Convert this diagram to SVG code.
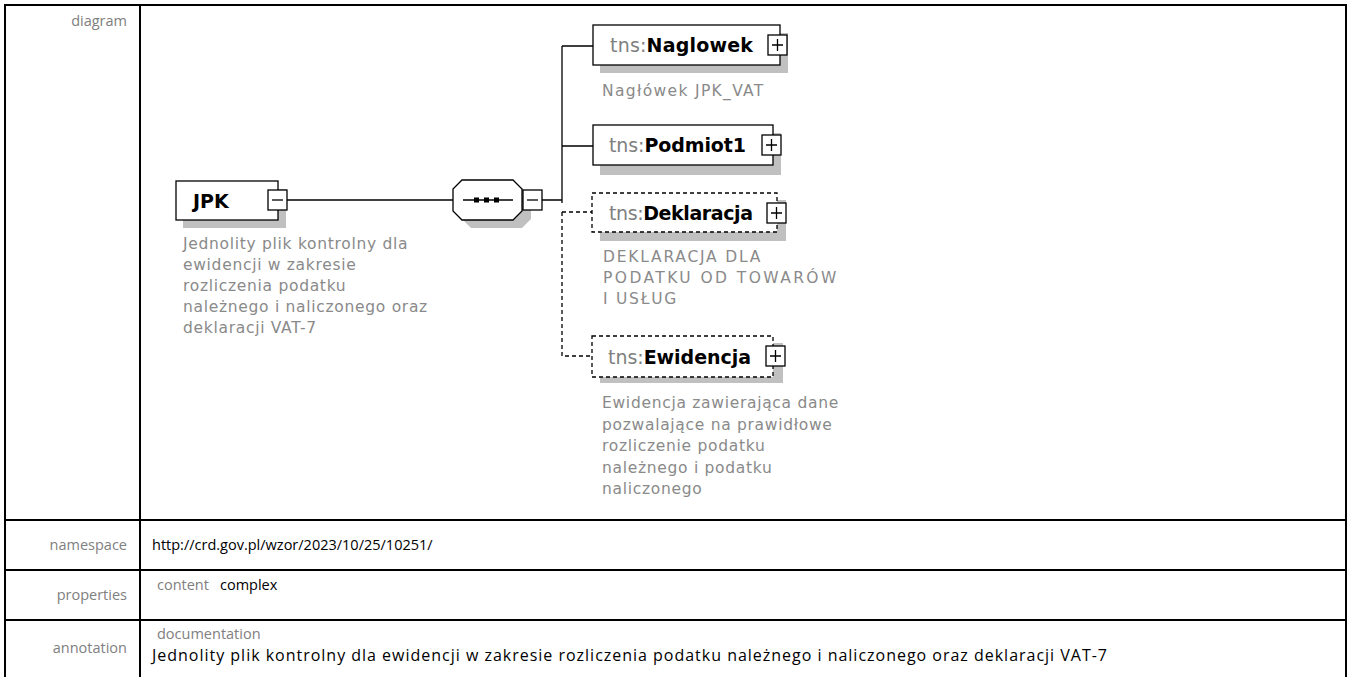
<svg xmlns="http://www.w3.org/2000/svg" width="1348" height="677" viewBox="0 0 1348 677">
<defs>
<style>
.lbl{font-family:"Open Sans","Noto Sans",sans-serif;font-size:14.5px;fill:#808080}
.val{font-family:"Open Sans","Noto Sans",sans-serif;font-size:14.5px;fill:#000}
.grid{stroke:#000;stroke-width:2;fill:none}
.box{fill:#fff;stroke:#000;stroke-width:1.3}
.dbox{fill:#fff;stroke:#000;stroke-width:1.3;stroke-dasharray:4,3}
.shadow{fill:#c0c0c0}
.ln{stroke:#000;stroke-width:1.3;fill:none}
.dln{stroke:#000;stroke-width:1.3;fill:none;stroke-dasharray:4,3}
.title{font-family:"DejaVu Sans",Verdana,sans-serif;font-size:19px}
.ns{fill:#808080}
.nm{fill:#000;font-weight:bold}
.desc{font-family:"DejaVu Sans",Verdana,sans-serif;font-size:15.5px;letter-spacing:0.7px;fill:#8a8a8a}
</style>
<g id="plus"><rect x="0" y="0" width="19" height="20" class="box"/><path d="M4 10H15M9.5 4V16" class="ln"/></g>
<g id="minus"><rect x="0" y="0" width="19" height="20" class="box"/><path d="M4 10H15" class="ln"/></g>
</defs>
<rect x="0" y="0" width="1348" height="677" fill="#fff"/>
<g id="table">
<rect x="5" y="5" width="1341" height="675" class="grid"/>
<path d="M140 5V677M5 520H1346M5 570H1346M5 620H1346" class="grid"/>
<text x="127" y="26" text-anchor="end" class="lbl">diagram</text>
<text x="127" y="550" text-anchor="end" class="lbl">namespace</text>
<text x="127" y="600" text-anchor="end" class="lbl">properties</text>
<text x="127" y="653" text-anchor="end" class="lbl">annotation</text>
<text x="152" y="550" class="val">http://crd.gov.pl/wzor/2023/10/25/10251/</text>
<text x="157" y="590" class="lbl">content</text>
<text x="220" y="590" class="val">complex</text>
<text x="157" y="639" class="lbl">documentation</text>
<text x="152" y="661" class="val" style="font-size:16px" textLength="955">Jednolity plik kontrolny dla ewidencji w zakresie rozliczenia podatku należnego i naliczonego oraz deklaracji VAT-7</text>
</g>
<g id="connectors">
<path d="M287 200H453" class="ln"/>
<path d="M542 200H562M562 46V203M562 46H593M562 146H593" class="ln"/>
<path d="M562 212H592M562 212V356H592" class="dln"/>
</g>
<g id="JPK">
<rect x="183" y="189" width="103" height="39" class="shadow"/>
<rect x="176" y="181" width="102" height="39" class="box"/>
<text x="193" y="207.5" class="title nm">JPK</text>
<use href="#minus" x="268" y="190"/>
<text x="183" y="249" class="desc">Jednolity plik kontrolny dla</text>
<text x="183" y="270" class="desc">ewidencji w zakresie</text>
<text x="183" y="291" class="desc">rozliczenia podatku</text>
<text x="183" y="312" class="desc">należnego i naliczonego oraz</text>
<text x="183" y="333" class="desc">deklaracji VAT-7</text>
</g>
<g id="sequence">
<polygon points="471,188 522,188 531,197 531,219 522,228 471,228 462,219 462,197" class="shadow"/>
<polygon points="462,180 513,180 522,189 522,211 513,220 462,220 453,211 453,189" class="box"/>
<path d="M463 200H513" class="ln"/>
<rect x="474" y="197.5" width="5" height="5"/>
<rect x="484" y="197.5" width="5" height="5"/>
<rect x="494" y="197.5" width="5" height="5"/>
<use href="#minus" x="523" y="190"/>
</g>
<g id="Naglowek">
<rect x="600" y="33" width="188" height="40" class="shadow"/>
<rect x="593" y="25" width="187" height="40" class="box"/>
<text x="610" y="52" class="title" textLength="143"><tspan class="ns">tns:</tspan><tspan class="nm">Naglowek</tspan></text>
<use href="#plus" x="768" y="35"/>
<text x="602" y="96" class="desc" textLength="162">Nagłówek JPK_VAT</text>
</g>
<g id="Podmiot1">
<rect x="600" y="133" width="181" height="42" class="shadow"/>
<rect x="593" y="125" width="180" height="40" class="box"/>
<text x="609" y="152" class="title" textLength="137"><tspan class="ns">tns:</tspan><tspan class="nm">Podmiot1</tspan></text>
<use href="#plus" x="762" y="135"/>
</g>
<g id="Deklaracja">
<rect x="600" y="200" width="186" height="41" class="shadow"/>
<rect x="592" y="193" width="185" height="39" class="dbox"/>
<text x="609" y="219.5" class="title" textLength="144"><tspan class="ns">tns:</tspan><tspan class="nm">Deklaracja</tspan></text>
<use href="#plus" x="767" y="203"/>
<text x="603" y="262" class="desc" textLength="158">DEKLARACJA DLA</text>
<text x="603" y="283" class="desc" textLength="234">PODATKU OD TOWARÓW</text>
<text x="603" y="304" class="desc" textLength="74">I USŁUG</text>
</g>
<g id="Ewidencja">
<rect x="600" y="343" width="183" height="40" class="shadow"/>
<rect x="592" y="336" width="181" height="41" class="dbox"/>
<text x="608" y="363.5" class="title" textLength="143"><tspan class="ns">tns:</tspan><tspan class="nm">Ewidencja</tspan></text>
<use href="#plus" x="766" y="346"/>
<text x="602" y="408" class="desc">Ewidencja zawierająca dane</text>
<text x="602" y="429.5" class="desc">pozwalające na prawidłowe</text>
<text x="602" y="451" class="desc">rozliczenie podatku</text>
<text x="602" y="472.5" class="desc">należnego i podatku</text>
<text x="602" y="494" class="desc">naliczonego</text>
</g>
</svg>
